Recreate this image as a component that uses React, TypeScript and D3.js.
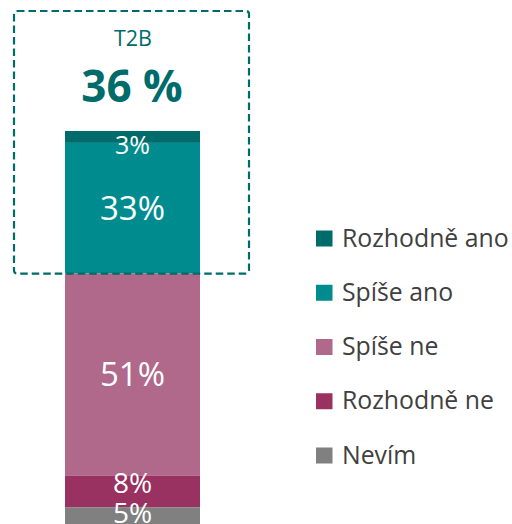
import React from "react";
import * as d3 from "d3";

const categories = ["Rozhodně ano", "Spíše ano", "Spíše ne", "Rozhodně ne", "Nevím"];
const values = [3, 33, 51, 8, 5];
const colors = ["#006B6B", "#008C8E", "#B0688B", "#993161", "#808080"];
const labelSizes = [25, 33, 33, 28, 28];
const t2bLabel = "T2B";
const t2bValue = "36 %";

const W = 512;
const H = 524;

export default function App() {
  const total = d3.sum(values);
  const y = d3.scaleLinear().domain([0, total]).range([131, 527]);
  const x = d3.scaleBand().domain(["bar"]).range([65, 200]).padding(0);
  const stacked = values.map((v, i) => {
    const start = d3.sum(values.slice(0, i));
    return { cat: categories[i], v, y0: y(start), y1: y(start + v), color: colors[i], fs: labelSizes[i] };
  });
  // label positions with clamping to plot area and overlap avoidance
  const labelPos = stacked.map((s) => (s.y0 + s.y1) / 2);
  const halfH = stacked.map((s) => s.fs * 0.55);
  for (let i = 0; i < labelPos.length; i++) {
    if (labelPos[i] - halfH[i] < 131) labelPos[i] = 131 + halfH[i];
    if (labelPos[i] + halfH[i] > H + 5) labelPos[i] = H + 5 - halfH[i];
  }
  for (let i = labelPos.length - 1; i > 0; i--) {
    const minGap = halfH[i] + halfH[i - 1];
    if (labelPos[i] - labelPos[i - 1] < minGap) labelPos[i - 1] = labelPos[i] - minGap;
  }
  const bx = x("bar") as number;
  const bw = x.bandwidth();
  const t2bBottom = y(values[0] + values[1]);
  const legendY = d3.scalePoint().domain(categories).range([238, 455]);

  return (
    <svg width={W} height={H} style={{ position: "absolute", left: 0, top: 0 }} fontFamily="'Open Sans', sans-serif">
      <rect x={0} y={0} width={W} height={H} fill="#fff" />
      {stacked.map((s) => (
        <rect key={s.cat} x={bx} y={s.y0} width={bw} height={s.y1 - s.y0} fill={s.color} />
      ))}
      {stacked.map((s, i) => (
        <text key={s.cat + "l"} x={bx + bw / 2} y={labelPos[i]} dy="0.35em" textAnchor="middle" fill="#fff" fontSize={s.fs}>
          {s.v}%
        </text>
      ))}
      <rect x={14} y={11} width={235} height={t2bBottom - 11} rx={3} fill="none" stroke="#006B6B" strokeWidth={2.2} strokeDasharray="7.5,4" />
      <text x={133} y={46} textAnchor="middle" fill="#006B6B" fontSize={21.5}>{t2bLabel}</text>
      <text x={132} y={102} textAnchor="middle" fill="#006B6B" fontSize={44} fontWeight="bold">{t2bValue}</text>
      {categories.map((c, i) => (
        <g key={c} transform={`translate(316,${legendY(c)})`}>
          <rect x={0} y={-7.5} width={16.5} height={16} fill={colors[i]} />
          <text x={26} y={0} dy="0.35em" fill="#404040" fontSize={24.8}>{c}</text>
        </g>
      ))}
    </svg>
  );
}
